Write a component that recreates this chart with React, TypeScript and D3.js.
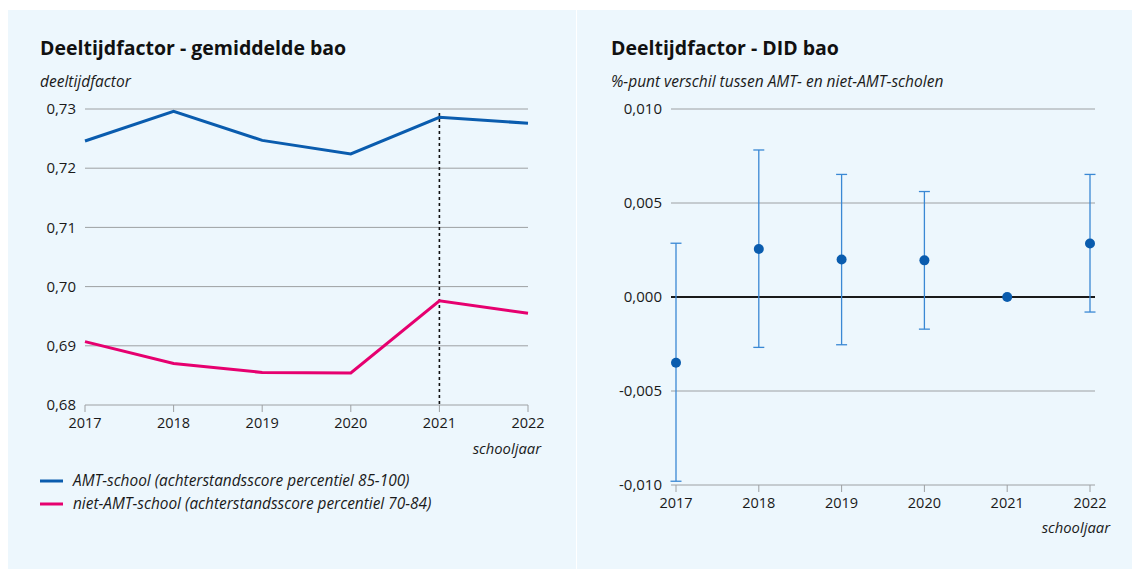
import React from "react";
import * as d3 from "d3";

const years = [2017, 2018, 2019, 2020, 2021, 2022];
const amtValues = [0.7246, 0.7296, 0.7247, 0.7224, 0.7286, 0.7276];
const nietAmtValues = [0.6907, 0.687, 0.6855, 0.6854, 0.6976, 0.6955];
const leftTicks = [0.68, 0.69, 0.7, 0.71, 0.72, 0.73];

const didValues = [-0.0035, 0.00255, 0.00199, 0.00195, 0.0, 0.00285];
const didUpper = [0.00286, 0.00782, 0.00652, 0.00561, 0.0, 0.00652];
const didLower = [-0.0098, -0.00268, -0.00254, -0.00171, 0.0, -0.0008];
const rightTicks = [-0.01, -0.005, 0, 0.005, 0.01];

const seriesLabels = [
  "AMT-school (achterstandsscore percentiel 85-100)",
  "niet-AMT-school (achterstandsscore percentiel 70-84)",
];

const BLUE = "#0a5cae";
const PINK = "#e6006f";
const ERR = "#3a88d4";
const BG = "#edf7fd";
const GRID = "#9da0a3";
const FONT = "'Open Sans', 'Noto Sans', sans-serif";

const fmt = (v: number, d: number) => {
  const s = Math.abs(v).toFixed(d).replace(".", ",");
  return (v < -1e-12 ? "-" : "") + s;
};

export default function App() {
  // Left chart scales
  const xL = d3.scaleLinear().domain([2017, 2022]).range([85, 528]);
  const yL = d3.scaleLinear().domain([0.68, 0.73]).range([405, 109]);
  const line = d3
    .line<number>()
    .x((_, i) => xL(years[i]))
    .y((d) => yL(d));

  // Right chart scales
  const xR = d3.scaleLinear().domain([2017, 2022]).range([676, 1090]);
  const yR = d3.scaleLinear().domain([-0.01, 0.01]).range([485, 109]);
  const gridR: [number, number] = [671, 1095];

  return (
    <svg
      width={1132}
      height={569}
      style={{ position: "absolute", left: 0, top: 0, fontFamily: FONT }}
    >
      <rect x={0} y={0} width={1132} height={569} fill="#ffffff" />
      <rect x={8} y={10} width={568} height={559} fill={BG} />
      <rect x={577} y={10} width={555} height={559} fill={BG} />

      {/* LEFT PANEL */}
      <text x={40} y={55} fontSize={19.5} fontWeight={700} fill="#111">
        Deeltijdfactor - gemiddelde bao
      </text>
      <text x={40} y={87} fontSize={15.5} fontStyle="italic" fill="#1a1a1a">
        deeltijdfactor
      </text>
      {leftTicks.map((t) => (
        <g key={"lt" + t}>
          {t > 0.68 + 1e-9 && (
            <line x1={85} x2={528} y1={yL(t)} y2={yL(t)} stroke={GRID} strokeWidth={1} />
          )}
          <text
            x={76}
            y={yL(t)}
            dy="0.35em"
            textAnchor="end"
            fontSize={15}
            fill="#1a1a1a"
          >
            {fmt(t, 2)}
          </text>
        </g>
      ))}
      <line x1={85} x2={528} y1={yL(0.68)} y2={yL(0.68)} stroke={GRID} strokeWidth={1} />
      {years.map((yr) => (
        <g key={"lx" + yr}>
          <line x1={xL(yr)} x2={xL(yr)} y1={405} y2={412} stroke={GRID} strokeWidth={1} />
          <text x={xL(yr)} y={428} textAnchor="middle" fontSize={14.5} fill="#1a1a1a">
            {yr}
          </text>
        </g>
      ))}
      <text x={541} y={454} textAnchor="end" fontSize={14.8} fontStyle="italic" fill="#1a1a1a">
        schooljaar
      </text>
      <line
        x1={xL(2021)}
        x2={xL(2021)}
        y1={113}
        y2={405}
        stroke="#111"
        strokeWidth={1.6}
        strokeDasharray="3,3"
      />
      <path d={line(amtValues) || ""} fill="none" stroke={BLUE} strokeWidth={3} />
      <path d={line(nietAmtValues) || ""} fill="none" stroke={PINK} strokeWidth={3} />

      {seriesLabels.map((lab, i) => (
        <g key={lab}>
          <line
            x1={40}
            x2={63}
            y1={481 + i * 23}
            y2={481 + i * 23}
            stroke={i === 0 ? BLUE : PINK}
            strokeWidth={3}
          />
          <text x={73} y={481 + i * 23} dy="0.35em" fontSize={15.4} fontStyle="italic" fill="#1a1a1a">
            {lab}
          </text>
        </g>
      ))}

      {/* RIGHT PANEL */}
      <text x={611} y={55} fontSize={19.5} fontWeight={700} fill="#111">
        Deeltijdfactor - DID bao
      </text>
      <text x={611} y={87} fontSize={15.5} fontStyle="italic" fill="#1a1a1a">
        %-punt verschil tussen AMT- en niet-AMT-scholen
      </text>
      {rightTicks.map((t) => (
        <g key={"rt" + t}>
          {Math.abs(t) > 1e-9 && (
            <line
              x1={gridR[0]}
              x2={gridR[1]}
              y1={yR(t)}
              y2={yR(t)}
              stroke={GRID}
              strokeWidth={1}
            />
          )}
          <text
            x={662}
            y={yR(t)}
            dy="0.35em"
            textAnchor="end"
            fontSize={15}
            fill="#1a1a1a"
          >
            {fmt(t, 3)}
          </text>
        </g>
      ))}
      {years.map((yr) => (
        <g key={"rx" + yr}>
          <line x1={xR(yr)} x2={xR(yr)} y1={485} y2={492} stroke={GRID} strokeWidth={1} />
          <text x={xR(yr)} y={508} textAnchor="middle" fontSize={14.5} fill="#1a1a1a">
            {yr}
          </text>
        </g>
      ))}
      <text x={1110} y={533} textAnchor="end" fontSize={14.8} fontStyle="italic" fill="#1a1a1a">
        schooljaar
      </text>
      <line
        x1={gridR[0]}
        x2={gridR[1]}
        y1={yR(0)}
        y2={yR(0)}
        stroke="#1a1a1a"
        strokeWidth={2}
      />
      {years.map((yr, i) =>
        didUpper[i] !== didLower[i] ? (
          <g key={"eb" + yr} stroke={ERR} strokeWidth={1.3}>
            <line x1={xR(yr)} x2={xR(yr)} y1={yR(didUpper[i])} y2={yR(didLower[i])} />
            <line x1={xR(yr) - 5.5} x2={xR(yr) + 5.5} y1={yR(didUpper[i])} y2={yR(didUpper[i])} />
            <line x1={xR(yr) - 5.5} x2={xR(yr) + 5.5} y1={yR(didLower[i])} y2={yR(didLower[i])} />
          </g>
        ) : null
      )}
      {years.map((yr, i) => (
        <circle key={"pt" + yr} cx={xR(yr)} cy={yR(didValues[i])} r={5} fill={BLUE} />
      ))}
    </svg>
  );
}
